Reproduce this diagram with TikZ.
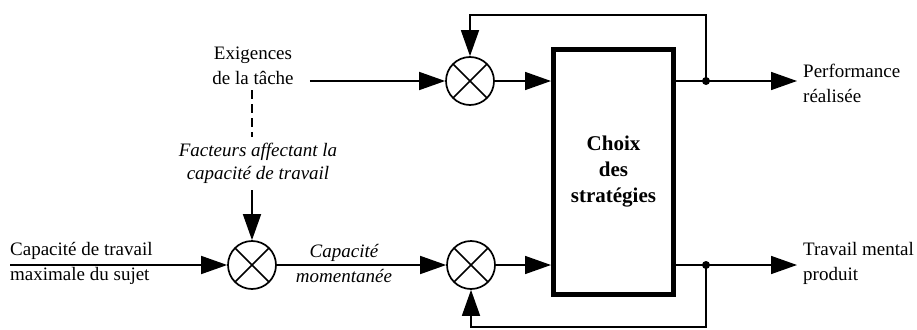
\documentclass[tikz,border=0pt]{standalone}
\usepackage{fontspec}
\setmainfont{Liberation Serif}
\usepackage{tikz}
\usetikzlibrary{arrows.meta, positioning, calc}

\begin{document}
\begin{tikzpicture}
[x=1pt, y=-1pt,
MultNode/.style={circle, draw=black, line width=1.7pt, minimum size=48pt, inner sep=0pt,
  path picture={\draw[line width=1.7pt]
    (path picture bounding box.north west) -- (path picture bounding box.south east)
    (path picture bounding box.north east) -- (path picture bounding box.south west);}},
BoxNode/.style={rectangle, draw=black, line width=5pt, minimum width=120pt,
  minimum height=244pt, align=center, font=\fontsize{21}{26}\selectfont\bfseries},
TextNode/.style={align=left, inner sep=0pt, font=\fontsize{19}{25}\selectfont},
ItalicNode/.style={align=center, inner sep=0pt, font=\fontsize{19}{23}\selectfont\itshape},
Flow/.style={line width=1.6pt, -{Triangle[length=26pt, width=18pt]}},
Dash/.style={line width=1.6pt, dash pattern=on 9pt off 5pt},
TapDot/.style={circle, fill=black, inner sep=0pt, minimum size=8pt}
]
\useasboundingbox (0,0) rectangle (917,329);

\node[BoxNode] (Strategies) at (613.5,172) {Choix\\des\\stratégies};
\node[MultNode] (MultTop) at (470,81) {};
\node[MultNode] (MultLow) at (471,265) {};
\node[MultNode] (MultLeft) at (252,265) {};

\node[TextNode, align=center] (Demands) at (253,66) {Exigences\\de la tâche};
\node[ItalicNode] (Factors) at (258,163) {Facteurs affectant la\\capacité de travail};
\node[TextNode, anchor=west] (CapMax) at (10,263) {Capacité de travail\\maximale du sujet};
\node[ItalicNode, font=\fontsize{19}{25}\selectfont\itshape] (CapMom) at (344,263) {Capacité\\momentanée};
\node[TextNode, anchor=west] (Performance) at (803,83) {Performance\\réalisée};
\node[TextNode, anchor=west] (Work) at (803,263) {Travail mental\\produit};

\node[TapDot] (TapTop) at (706,81) {};
\node[TapDot] (TapLow) at (706,265) {};

% inputs
\draw[Flow, shorten <=16pt] (Demands.east |- MultTop) -- (MultTop.west);
\draw[Dash] ([yshift=-5pt]Demands.south -| MultLeft) -- ([yshift=6pt]Factors.north -| MultLeft);
\draw[Flow, shorten <=7pt] (Factors.south -| MultLeft) -- (MultLeft.north);
\draw[Flow] (CapMax.west |- MultLeft) -- (MultLeft.west);
\draw[Flow] (MultLeft.east) -- (MultLow.west);

% into the box
\draw[Flow] (MultTop.east) -- (Strategies.west |- MultTop);
\draw[Flow] (MultLow.east) -- (Strategies.west |- MultLow);

% outputs
\draw[Flow, shorten >=6pt] (Strategies.east |- MultTop) -- (Performance.west |- MultTop);
\draw[Flow, shorten >=6pt] (Strategies.east |- MultLow) -- (Work.west |- MultLow);

% feedback
\draw[Flow] (TapTop.center) -- ++(0,-66) -| (MultTop.north);
\draw[Flow] (TapLow.center) -- ++(0,62) -| (MultLow.south);
\end{tikzpicture}
\end{document}
